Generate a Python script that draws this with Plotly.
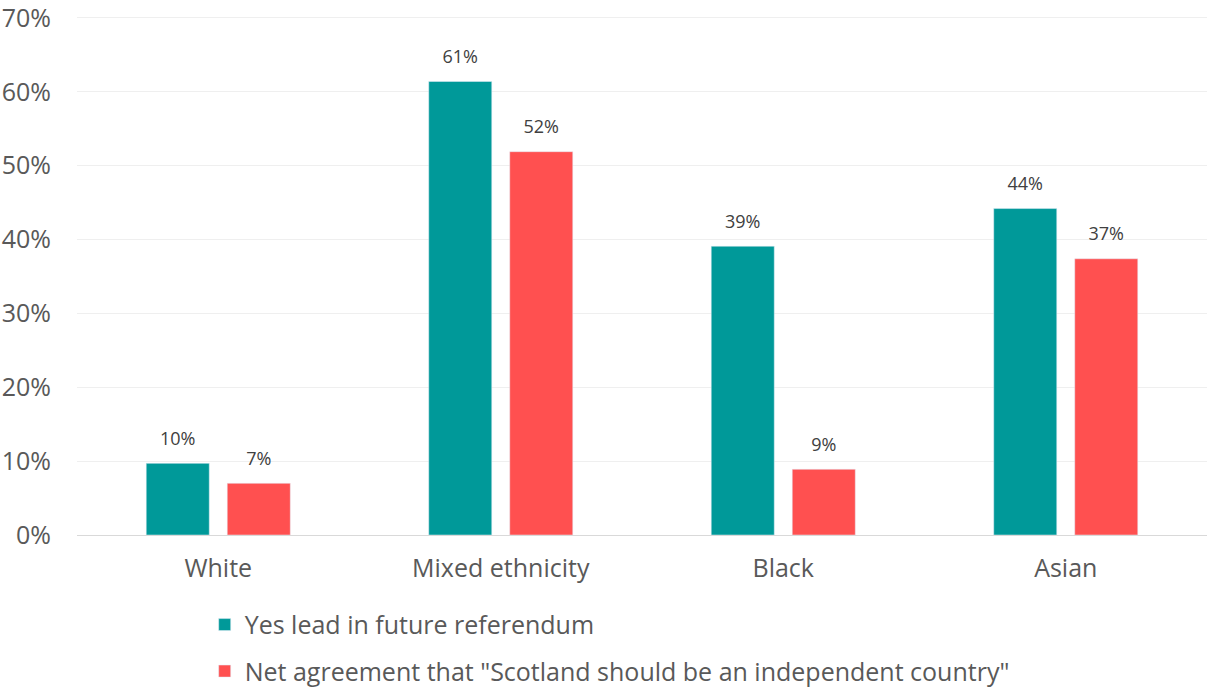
import plotly.graph_objects as go

categories = ["White", "Mixed ethnicity", "Black", "Asian"]
yes_lead = [9.7, 61.4, 39.1, 44.2]
net_agree = [7.0, 51.9, 8.9, 37.4]
yes_labels = ["10%", "61%", "39%", "44%"]
net_labels = ["7%", "52%", "9%", "37%"]
series_names = ["Yes lead in future referendum",
                "Net agreement that \"Scotland should be an independent country\""]
tick_vals = [0, 10, 20, 30, 40, 50, 60, 70]
tick_text = ["0%", "10%", "20%", "30%", "40%", "50%", "60%", "70%"]

TEAL = "#009999"
RED = "#FF5050"
FONT = "'Open Sans', Lato, sans-serif"
GAP = 0.4265

fig = go.Figure()
for vals, name, color, grp in [
    (yes_lead, series_names[0], TEAL, "a"),
    (net_agree, series_names[1], RED, "b"),
]:
    fig.add_trace(go.Bar(
        x=categories, y=vals, name=name, marker_color=color,
        legendgroup=grp, hoverinfo="skip"))
for vals, labels in [(yes_lead, yes_labels), (net_agree, net_labels)]:
    fig.add_trace(go.Scatter(
        x=categories, y=vals, mode="markers+text", text=labels,
        textposition="top center", showlegend=False, cliponaxis=False,
        marker=dict(size=21, opacity=0), hoverinfo="skip",
        textfont=dict(size=18, color="#404040", family=FONT)))

fig.update_layout(
    width=1208, height=687,
    margin=dict(l=77, r=1, t=16, b=152, autoexpand=False),
    plot_bgcolor="white", paper_bgcolor="white",
    font=dict(family=FONT, color="#595959", size=25),
    barmode="group", bargap=GAP, bargroupgap=0.222,
    scattermode="group", scattergap=GAP,
    showlegend=True,
    legend=dict(orientation="v", x=0.113, xanchor="left", y=-0.306, yanchor="bottom",
                font=dict(size=25, color="#595959"), tracegroupgap=11,
                itemwidth=30),
    yaxis=dict(range=[0, 70.27], tickvals=tick_vals, ticktext=tick_text,
               showgrid=True, gridcolor="#EFEFEF", gridwidth=1,
               zeroline=True, zerolinecolor="#D9D9D9", zerolinewidth=1,
               ticks="", ticklabelstandoff=25, tickfont=dict(size=25),
               ticklabeloverflow="allow", automargin=False),
    xaxis=dict(showline=False, ticks="", tickfont=dict(size=25),
               ticklabelstandoff=16, automargin=False),
)

fig.write_html("out.html", config={"displayModeBar": False},
               post_script="document.body.style.margin='0';")
